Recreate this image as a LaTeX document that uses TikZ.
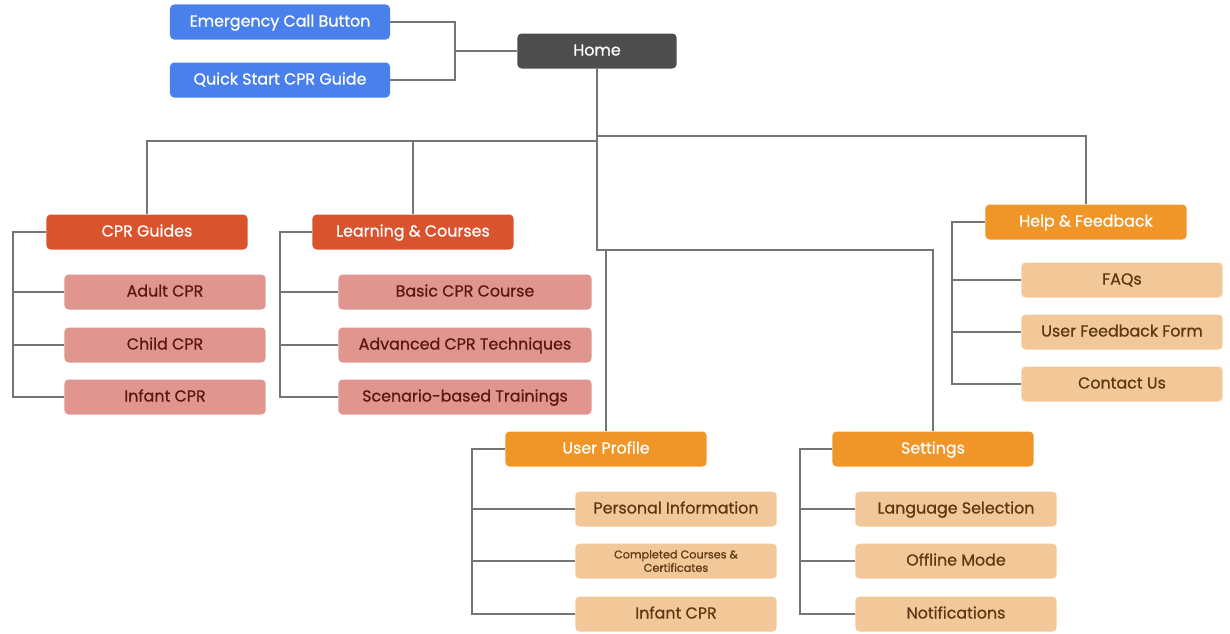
\documentclass[tikz,border=0pt]{standalone}
\usepackage{fontspec}
\setmainfont{Poppins}[FakeBold=0.7]
\definecolor{blueBtn}{HTML}{4A80EC}
\definecolor{homeGray}{HTML}{4D4D4D}
\definecolor{redHead}{HTML}{D9532F}
\definecolor{redItem}{HTML}{E0968E}
\definecolor{redText}{HTML}{5A1710}
\definecolor{orgHead}{HTML}{F09528}
\definecolor{orgItem}{HTML}{F2C898}
\definecolor{orgText}{HTML}{5B3812}
\definecolor{wireGray}{HTML}{757575}
\tikzset{
  box/.style={rounded corners=3pt, minimum height=0.875cm, inner sep=0pt,
    align=center, text height=0.68em, text depth=0.04em,
    font=\fontsize{11.3}{13}\selectfont},
  quickbox/.style={box, fill=blueBtn, text=white, minimum width=5.5cm},
  homebox/.style={box, fill=homeGray, text=white, minimum width=3.98cm},
  redhead/.style={box, fill=redHead, text=white, minimum width=5.03cm},
  reditem/.style={box, fill=redItem, text=redText, minimum width=5.03cm},
  orghead/.style={box, fill=orgHead, text=white, minimum width=5.03cm},
  orgitem/.style={box, fill=orgItem, text=orgText, minimum width=5.03cm},
  wire/.style={draw=wireGray, line width=1pt}
}
\begin{document}
\begin{tikzpicture}[x=0.025cm, y=-0.025cm]
    \useasboundingbox (0,0) rectangle (1230,633);

    % Top row
    \node[quickbox] (call) at (280,22) {Emergency Call Button};
    \node[quickbox] (quick) at (280,80) {Quick Start CPR Guide};
    \node[homebox] (home) at (597,51) {Home};

    % Section heads
    \node[redhead] (guides) at (147,232) {CPR Guides};
    \node[redhead] (learn) at (413,232) {Learning \& Courses};
    \node[orghead] (help) at (1086,222) {Help \& Feedback};
    \node[orghead] (profile) at (606,449) {User Profile};
    \node[orghead] (settings) at (933,449) {Settings};

    % Items
    \foreach \n/\y/\t in {adult/292/Adult CPR, child/345/Child CPR, infant/397/Infant CPR}
    {\node[reditem] (\n) at (165,\y) {\t};}
    \foreach \n/\y/\t in {basic/292/Basic CPR Course, advanced/345/Advanced CPR Techniques, scenario/397/Scenario-based Trainings}
    {\node[reditem, minimum width=6.33cm] (\n) at (465,\y) {\t};}
    \foreach \n/\y/\t in {faq/280/FAQs, feedback/332/User Feedback Form, contact/384/Contact Us}
    {\node[orgitem] (\n) at (1122,\y) {\t};}
    \node[orgitem] (personal) at (676,509) {Personal Information};
    \node[orgitem, text height=, text depth=, font=\fontsize{8}{9.5}\selectfont] (completed) at (676,561) {Completed Courses \&\\Certificates};
    \node[orgitem] (infantp) at (676,614) {Infant CPR};
    \foreach \n/\y/\t in {language/509/Language Selection, offline/561/Offline Mode, notify/614/Notifications}
    {\node[orgitem] (\n) at (956,\y) {\t};}

    % Connectors from Home
    \coordinate (joint) at (455,51);
    \coordinate (hubL) at (597,141);
    \coordinate (hubR) at (597,136);
    \coordinate (hubB) at (597,250);
    \draw[wire] (call.east) -| (joint) |- (quick.east);
    \draw[wire] (joint) -- (home.west);
    \draw[wire] (home.south) -- (hubB) -| (settings.north);
    \draw[wire] (hubL) -| (guides.north);
    \draw[wire] (learn.north) |- (hubL);
    \draw[wire] (hubR) -| (help.north);
    \draw[wire] (profile.north) |- (hubB);

    % Brackets
    \foreach \c in {adult,child,infant}
    {\draw[wire] (guides.west) -- ++(-33,0) |- (\c.west);}
    \foreach \c in {basic,advanced,scenario}
    {\draw[wire] (learn.west) -- ++(-32,0) |- (\c.west);}
    \foreach \c in {faq,feedback,contact}
    {\draw[wire] (help.west) -- ++(-33,0) |- (\c.west);}
    \foreach \c in {personal,completed,infantp}
    {\draw[wire] (profile.west) -- ++(-33,0) |- (\c.west);}
    \foreach \c in {language,offline,notify}
    {\draw[wire] (settings.west) -- ++(-32,0) |- (\c.west);}
\end{tikzpicture}
\end{document}
